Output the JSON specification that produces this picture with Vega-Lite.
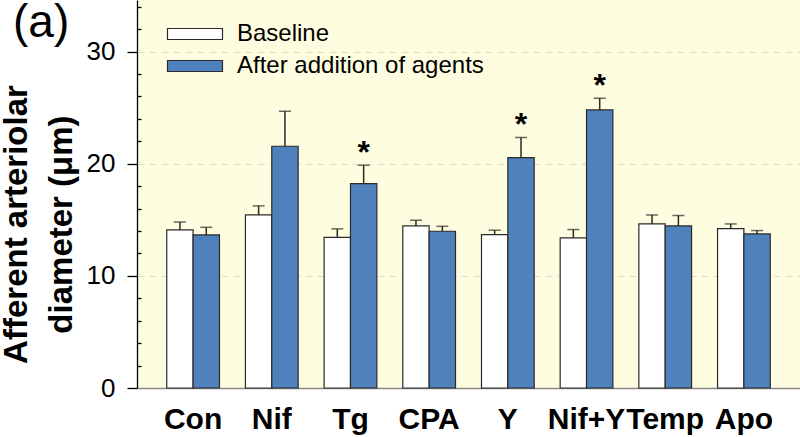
{
  "$schema": "https://vega.github.io/schema/vega-lite/v6.json",
  "width": 663,
  "height": 388,
  "autosize": {"type": "none"},
  "padding": {"left": 137, "top": 0, "right": 0, "bottom": 49},
  "background": "white",
  "config": {
    "view": {"fill": "#FFFDE0", "stroke": null},
    "font": "Liberation Sans"
  },
  "title": {
    "text": "(a)",
    "fontSize": 46,
    "fontWeight": "normal",
    "anchor": "start",
    "frame": "group",
    "dx": -124,
    "dy": 53,
    "baseline": "top",
    "offset": 0,
    "color": "black"
  },
  "data": {
    "values": [
      {"group": "Con", "cond": "Baseline", "value": 14.1, "hi": 14.8, "star": false},
      {"group": "Con", "cond": "After addition of agents", "value": 13.65, "hi": 14.33, "star": false},
      {"group": "Nif", "cond": "Baseline", "value": 15.43, "hi": 16.24, "star": false},
      {"group": "Nif", "cond": "After addition of agents", "value": 21.56, "hi": 24.68, "star": false},
      {"group": "Tg", "cond": "Baseline", "value": 13.44, "hi": 14.19, "star": false},
      {"group": "Tg", "cond": "After addition of agents", "value": 18.23, "hi": 19.87, "star": true},
      {"group": "CPA", "cond": "Baseline", "value": 14.45, "hi": 14.96, "star": false},
      {"group": "CPA", "cond": "After addition of agents", "value": 13.98, "hi": 14.42, "star": false},
      {"group": "Y", "cond": "Baseline", "value": 13.68, "hi": 14.07, "star": false},
      {"group": "Y", "cond": "After addition of agents", "value": 20.55, "hi": 22.34, "star": true},
      {"group": "Nif+Y", "cond": "Baseline", "value": 13.38, "hi": 14.13, "star": false},
      {"group": "Nif+Y", "cond": "After addition of agents", "value": 24.8, "hi": 25.84, "star": true},
      {"group": "Temp", "cond": "Baseline", "value": 14.63, "hi": 15.43, "star": false},
      {"group": "Temp", "cond": "After addition of agents", "value": 14.45, "hi": 15.38, "star": false},
      {"group": "Apo", "cond": "Baseline", "value": 14.22, "hi": 14.63, "star": false},
      {"group": "Apo", "cond": "After addition of agents", "value": 13.74, "hi": 14.04, "star": false}
    ]
  },
  "encoding": {
    "x": {
      "field": "group",
      "type": "nominal",
      "sort": ["Con", "Nif", "Tg", "CPA", "Y", "Nif+Y", "Temp", "Apo"],
      "scale": {"paddingInner": 0.33, "paddingOuter": 0.378},
      "axis": {
        "title": null,
        "labelAngle": 0,
        "labelFontSize": 30,
        "labelFontWeight": "bold",
        "labelColor": "black",
        "labelPadding": 16,
        "ticks": false,
        "domainColor": "#888888",
        "domainWidth": 1.5
      }
    },
    "xOffset": {
      "field": "cond",
      "type": "nominal",
      "sort": ["Baseline", "After addition of agents"],
      "scale": {"paddingInner": 0, "paddingOuter": 0}
    }
  },
  "layer": [
    {
      "mark": {"type": "bar", "stroke": "#2a2a2a", "strokeWidth": 1.2},
      "encoding": {
        "y": {
          "field": "value",
          "type": "quantitative",
          "scale": {"domain": [0, 34.6], "nice": false, "zero": true},
          "axis": {
            "title": ["Afferent arteriolar", "diameter (μm)"],
            "values": [0, 2, 4, 6, 8, 10, 12, 14, 16, 18, 20, 22, 24, 26, 28, 30, 32, 34],
            "tickCount": 50,
            "format": "d",
            "labelExpr": "datum.value % 10 === 0 ? datum.label : ''",
            "labelOverlap": false,
            "labelFlush": false,
            "grid": true,
            "gridDash": [7, 5],
            "gridColor": "#DEDBC8",
            "gridWidth": 1,
            "gridOpacity": {"condition": {"test": "datum.value % 10 === 0 && datum.value > 0", "value": 1}, "value": 0},
            "domainColor": "black",
            "domainWidth": 1.3,
            "tickColor": "black",
            "tickSize": {"condition": {"test": "datum.value % 10 === 0", "value": 10}, "value": -4},
            "tickWidth": 1.3,
            "labelFontSize": 26,
            "labelColor": "black",
            "labelPadding": 12,
            "titleFontSize": 33,
            "titleFontWeight": "bold",
            "titleColor": "black",
            "titleLineHeight": 45,
            "titleAngle": -90,
            "titleBaseline": "top",
            "titleAlign": "center",
            "titleX": -137,
            "titleY": 224
          }
        },
        "color": {
          "field": "cond",
          "type": "nominal",
          "scale": {"domain": ["Baseline", "After addition of agents"], "range": ["#FFFFFF", "#4F81BD"]},
          "legend": {
            "title": null,
            "orient": "none",
            "legendX": 46,
            "legendY": 22,
            "padding": 0,
            "symbolType": "M-2.5,-0.5H2.5V0.5H-2.5Z",
            "symbolSize": 484,
            "symbolStrokeColor": "#2a2a2a",
            "symbolStrokeWidth": 1.2,
            "symbolOpacity": 1,
            "labelFontSize": 24,
            "labelColor": "black",
            "labelOffset": 30,
            "rowPadding": 8,
            "labelLimit": 400
          }
        }
      }
    },
    {
      "mark": {"type": "rule", "color": "#2a2a2a", "strokeWidth": 1.5},
      "encoding": {
        "y": {"field": "value", "type": "quantitative"},
        "y2": {"field": "hi"}
      }
    },
    {
      "mark": {"type": "tick", "color": "#2a2a2a", "thickness": 1.5, "size": 12},
      "encoding": {
        "y": {"field": "hi", "type": "quantitative"}
      }
    },
    {
      "transform": [{"filter": "datum.star"}],
      "mark": {"type": "text", "text": "*", "fontSize": 32, "fontWeight": "bold", "baseline": "alphabetic", "dy": -2, "color": "black"},
      "encoding": {
        "y": {"field": "hi", "type": "quantitative"}
      }
    }
  ]
}
